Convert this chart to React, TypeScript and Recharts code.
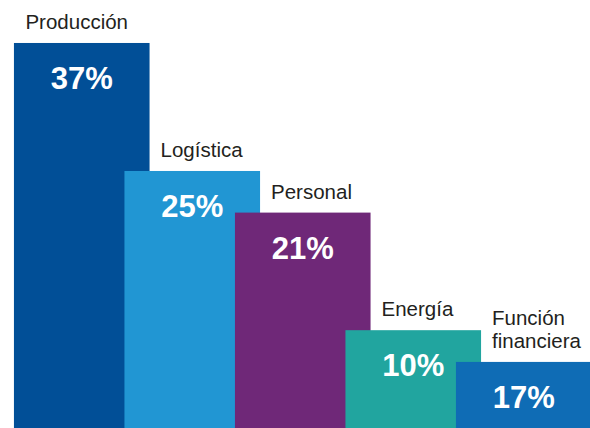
import React from "react";
import { BarChart, Bar, XAxis, YAxis } from "recharts";

const categories: string[][] = [
  ["Producción"],
  ["Logística"],
  ["Personal"],
  ["Energía"],
  ["Función", "financiera"],
];
const shareLabels = ["37%", "25%", "21%", "10%", "17%"];
const barHeights = [37, 24.7, 20.7, 9.4, 6.35];
const colors = ["#014f97", "#2196d3", "#6f2878", "#21a59f", "#0f6cb5"];

const data = categories.map((lines, i) => ({
  name: lines.join(" "),
  lines,
  label: shareLabels[i],
  value: barHeights[i],
  color: colors[i],
}));

const W = 590;
const H = 428;
const WIDEN = 135 / 110.5;

const BarShape = (props: any) => {
  const { x, y, width, height, index, payload } = props;
  const center = x + width / 2;
  const w = width * WIDEN;
  const x0 = center - w / 2;
  const visibleLeft = index === 0 ? x0 : x0 + (w - width);
  const labelX = visibleLeft + 11.5;
  const lines: string[] = payload.lines;
  const lh = 23;
  return (
    <g>
      <rect x={x0} y={y} width={w} height={height + 10} fill={payload.color} />
      <text
        x={center}
        y={y + 46}
        textAnchor="middle"
        fill="#ffffff"
        fontFamily="Liberation Sans, Arial, sans-serif"
        fontWeight="bold"
        fontSize={31}
      >
        {payload.label}
      </text>
      <text
        x={labelX}
        y={y - 14 - (lines.length - 1) * lh}
        fill="#231f20"
        fontFamily="Liberation Sans, Arial, sans-serif"
        fontSize={20.5}
      >
        {lines.map((l, i) => (
          <tspan key={i} x={labelX} dy={i === 0 ? 0 : lh}>
            {l}
          </tspan>
        ))}
      </text>
    </g>
  );
};

export default function App() {
  return (
    <div style={{ position: "absolute", left: 0, top: 0, width: W, height: H, background: "#ffffff" }}>
      <BarChart
        width={W}
        height={H}
        data={data}
        margin={{ top: 0, right: 11.25, bottom: 0, left: 26.25 }}
        barCategoryGap={0}
      >
        <XAxis dataKey="name" hide />
        <YAxis hide domain={[0, 41.13]} />
        <Bar dataKey="value" isAnimationActive={false} shape={<BarShape />} />
      </BarChart>
    </div>
  );
}
